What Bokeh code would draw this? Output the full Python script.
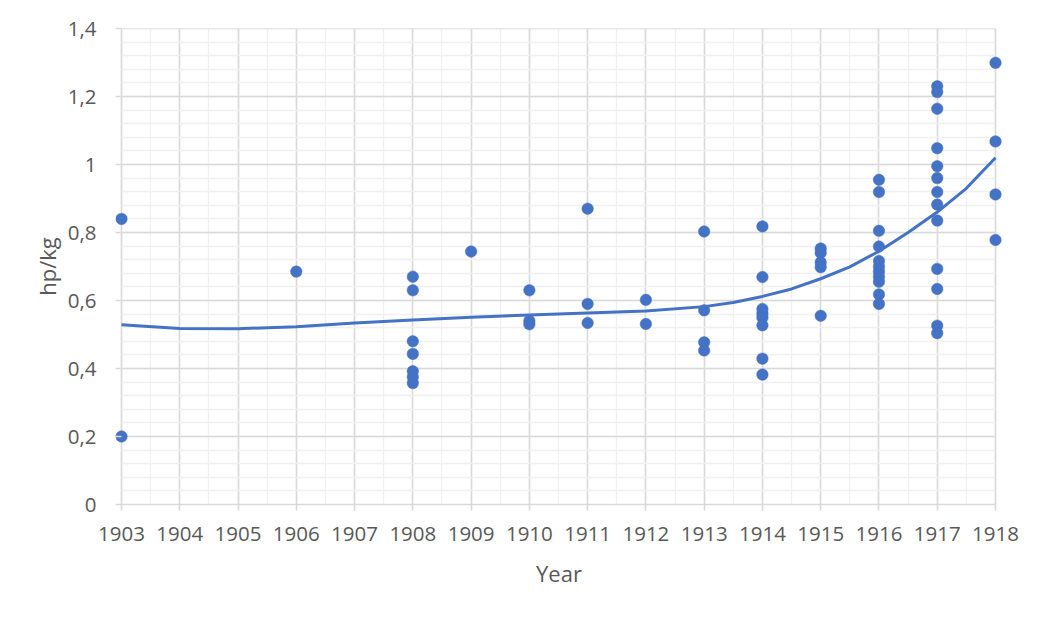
from bokeh.plotting import figure
from bokeh.models import Range1d, SingleIntervalTicker, CustomJSTickFormatter, ColumnDataSource
from bokeh.embed import file_html
from bokeh.resources import INLINE

# ---- data ----
years = ([1903] * 2 + [1906] + [1908] * 7 + [1909] + [1910] * 3 + [1911] * 3 + [1912] * 2
         + [1913] * 4 + [1914] * 8 + [1915] * 5 + [1916] * 11 + [1917] * 13 + [1918] * 4)
hp_per_kg = [0.84, 0.2,
             0.685,
             0.67, 0.63, 0.48, 0.443, 0.392, 0.375, 0.357,
             0.744,
             0.63, 0.54, 0.53,
             0.87, 0.59, 0.534,
             0.602, 0.531,
             0.803, 0.571, 0.477, 0.453,
             0.818, 0.669, 0.575, 0.562, 0.55, 0.527, 0.429, 0.382,
             0.753, 0.74, 0.712, 0.698, 0.555,
             0.955, 0.919, 0.805, 0.759, 0.716, 0.70, 0.685, 0.67, 0.655, 0.618, 0.59,
             1.23, 1.213, 1.164, 1.048, 0.995, 0.96, 0.919, 0.882, 0.835, 0.693, 0.634, 0.526, 0.504,
             1.299, 1.068, 0.912, 0.778]

trend_years = [1903, 1904, 1905, 1906, 1907, 1908, 1909, 1910, 1911, 1912, 1913, 1913.5,
               1914, 1914.5, 1915, 1915.5, 1916, 1916.5, 1917, 1917.5, 1918]
trend_values = [0.529, 0.518, 0.517, 0.523, 0.534, 0.543, 0.551, 0.557, 0.563, 0.569, 0.582, 0.594,
                0.612, 0.634, 0.664, 0.699, 0.745, 0.80, 0.86, 0.93, 1.02]

x_title = "Year"
y_title = "hp/kg"

# ---- styling ----
BLUE = "#4472C4"
TXT = "#595959"
MAJOR = "#d9d9d9"
MINOR = "#f0f0f0"
FONT = "Open Sans"

x0, x1 = 1903, 1918
pad_l = 6 / 58.27
pad_r = 7 / 58.27

p = figure(frame_width=887, frame_height=476,
           min_border_left=115, min_border_right=28, min_border_top=28, min_border_bottom=101,
           x_range=Range1d(x0 - pad_l, x1 + pad_r), y_range=Range1d(0, 1.40001),
           output_backend="svg", toolbar_location=None, tools="")
p.outline_line_color = None
p.background_fill_color = "white"
p.border_fill_color = "white"

xt = SingleIntervalTicker(interval=1, num_minor_ticks=2)
yt = SingleIntervalTicker(interval=0.2, num_minor_ticks=5)
p.xaxis.ticker = xt
p.yaxis.ticker = yt
p.xgrid.ticker = xt
p.ygrid.ticker = yt

p.xaxis.bounds = (x0, x1)
p.xgrid.bounds = (x0, x1)
p.ygrid.cross_bounds = (x0, x1)
p.xgrid.cross_bounds = (0, 1.4)

for g in (p.xgrid, p.ygrid):
    g.grid_line_color = MAJOR
    g.grid_line_width = 1.6
    g.minor_grid_line_color = MINOR
    g.minor_grid_line_width = 1.3

p.yaxis.formatter = CustomJSTickFormatter(code="""
const v = Math.round(tick * 10) / 10;
return v.toString().replace('.', ',');
""")
p.xaxis.formatter = CustomJSTickFormatter(code="return Math.round(tick).toString();")

for ax in (p.xaxis, p.yaxis):
    ax.major_label_text_font = FONT
    ax.major_label_text_font_size = "20.5px"
    ax.major_label_text_color = TXT
    ax.axis_label_text_font = FONT
    ax.axis_label_text_font_size = "22px"
    ax.axis_label_text_font_style = "normal"
    ax.axis_label_text_color = TXT
    ax.minor_tick_line_color = None
    ax.major_tick_line_color = MAJOR
    ax.major_tick_line_width = 1.6

p.xaxis.axis_label = x_title
p.xaxis.axis_line_color = MAJOR
p.xaxis.axis_line_width = 1.6
p.xaxis.major_tick_in = 0
p.xaxis.major_tick_out = 6
p.xaxis.major_label_standoff = 16
p.xaxis.axis_label_standoff = 14

p.yaxis.axis_label = y_title
p.yaxis.axis_line_color = None
p.yaxis.major_tick_in = 6
p.yaxis.major_tick_out = 0
p.yaxis.major_label_standoff = 15
p.yaxis.axis_label_standoff = 3

src = ColumnDataSource(dict(x=years, y=hp_per_kg))
p.line(trend_years, trend_values, line_color=BLUE, line_width=3)
p.scatter("x", "y", source=src, size=11.5, fill_color=BLUE, line_color=BLUE, line_width=0.5)

open("out.html", "w").write(file_html(p, INLINE))
